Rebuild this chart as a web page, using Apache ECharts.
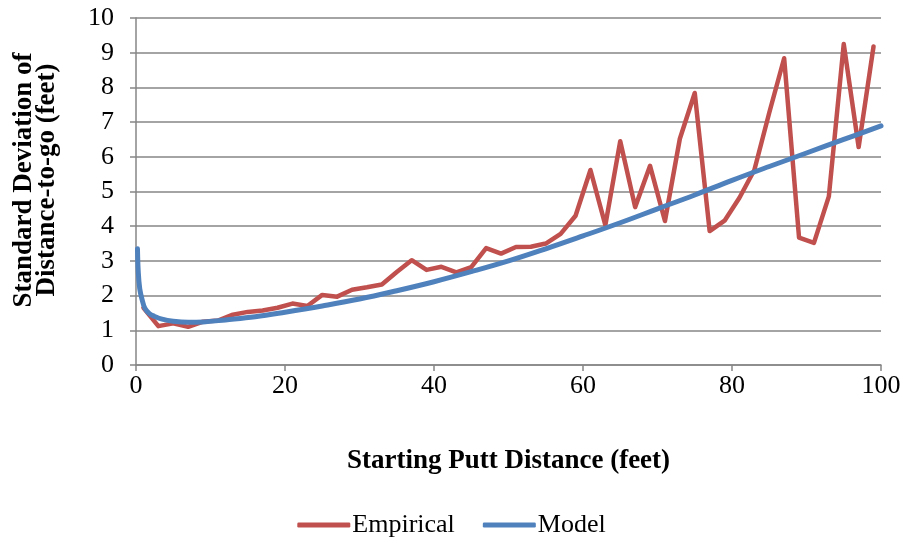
<!DOCTYPE html>
<html>
<head>
<meta charset="utf-8">
<script src="https://cdn.jsdelivr.net/npm/echarts@6/dist/echarts.min.js"></script>
<style>
  html, body { margin: 0; padding: 0; background: #fff; }
  #chart { width: 903px; height: 543px; }
</style>
</head>
<body>
<div id="chart"></div>
<script>
// Starting putt distance (feet) for the empirical measurements
const empiricalX = [1, 3, 5, 7, 9, 11, 13, 15, 17, 19, 21, 23, 25, 27, 29, 31, 33, 35, 37, 39,
  41, 43, 45, 47, 49, 51, 53, 55, 57, 59, 61, 63, 65, 67, 69, 71, 73, 75, 77, 79,
  81, 83, 85, 87, 89, 91, 93, 95, 97, 99];
// Standard deviation of distance-to-go (feet), empirical
const empiricalY = [1.65, 1.12, 1.2, 1.1, 1.25, 1.28, 1.45, 1.53, 1.57, 1.65, 1.77, 1.7, 2.02, 1.97, 2.17, 2.24, 2.32, 2.68, 3.02, 2.74,
  2.83, 2.67, 2.82, 3.37, 3.21, 3.4, 3.41, 3.5, 3.78, 4.3, 5.62, 4.03, 6.45, 4.55, 5.74, 4.15, 6.52, 7.84, 3.86, 4.16,
  4.82, 5.62, 7.27, 8.84, 3.67, 3.52, 4.86, 9.25, 6.28, 9.18];

// Model curve sample points
const modelX = [0.2, 0.3, 0.5, 0.8, 1.2, 1.8, 2.5, 3.5, 5, 7, 9, 12, 16, 20, 25, 30, 35, 40, 45, 50,
  55, 60, 65, 70, 75, 80, 85, 90, 95, 100];
const modelY = [3.35, 2.7, 2.2, 1.9, 1.63, 1.48, 1.4, 1.32, 1.26, 1.23, 1.24, 1.3, 1.39, 1.52, 1.7, 1.9, 2.14, 2.4, 2.69, 3.0,
  3.35, 3.72, 4.1, 4.5, 4.9, 5.32, 5.72, 6.11, 6.5, 6.89];

const xTicks = { min: 0, max: 100, step: 20 };
const yTicks = { min: 0, max: 10, step: 1 };

const xTitle = 'Starting Putt Distance (feet)';
const yTitle = 'Standard Deviation of\nDistance-to-go (feet)';

const pair = (xs, ys) => xs.map((x, i) => [x, ys[i]]);

const serif = '"Liberation Serif", "Times New Roman", serif';
const gridGray = '#868686';
const fs = 26;
const titleFs = 27;

const chart = echarts.init(document.getElementById('chart'), null, { renderer: 'canvas' });
chart.setOption({
  animation: false,
  backgroundColor: '#ffffff',
  textStyle: { fontFamily: serif, color: '#000' },
  grid: { left: 136, right: 22, top: 18, bottom: 178, containLabel: false, outerBoundsMode: 'none' },
  graphic: [
    {
      // vertical y-axis title, two lines
      type: 'text',
      rotation: Math.PI / 2,
      x: 36,
      y: 180,
      style: {
        text: yTitle,
        fontFamily: serif,
        fontWeight: 'bold',
        fontSize: titleFs,
        lineHeight: 23,
        fill: '#000',
        align: 'center',
        verticalAlign: 'middle'
      }
    }
  ],
  xAxis: {
    type: 'value',
    min: xTicks.min, max: xTicks.max, interval: xTicks.step,
    name: xTitle,
    nameLocation: 'middle',
    nameGap: 83,
    nameTextStyle: { fontFamily: serif, fontWeight: 'bold', fontSize: titleFs, color: '#000' },
    axisLine: { show: true, onZero: false, lineStyle: { color: gridGray, width: 1.5 } },
    axisTick: { show: true, inside: false, length: 6, lineStyle: { color: gridGray, width: 1.5 } },
    axisLabel: { fontFamily: serif, fontSize: fs, color: '#000', margin: 8 },
    splitLine: { show: false }
  },
  yAxis: {
    type: 'value',
    min: yTicks.min, max: yTicks.max, interval: yTicks.step,
    axisLine: { show: true, lineStyle: { color: gridGray, width: 1.5 } },
    axisTick: { show: true, inside: false, length: 6, lineStyle: { color: gridGray, width: 1.5 } },
    axisLabel: { fontFamily: serif, fontSize: fs, color: '#000', margin: 22 },
    splitLine: { show: true, lineStyle: { color: gridGray, width: 1.5 } }
  },
  legend: {
    bottom: 0,
    left: 'center',
    itemWidth: 53,
    itemHeight: 5,
    itemGap: 28,
    icon: 'roundRect',
    textStyle: { fontFamily: serif, fontSize: fs, color: '#000', padding: [0, 0, 0, -3] },
    data: ['Empirical', 'Model']
  },
  series: [
    {
      name: 'Empirical',
      type: 'line',
      data: pair(empiricalX, empiricalY),
      showSymbol: false,
      symbol: 'none',
      lineStyle: { color: '#C0504D', width: 4.5, cap: 'round', join: 'round' },
      itemStyle: { color: '#C0504D' },
      z: 2
    },
    {
      name: 'Model',
      type: 'line',
      data: pair(modelX, modelY),
      smooth: 0.4,
      showSymbol: false,
      symbol: 'none',
      lineStyle: { color: '#4F81BD', width: 5, cap: 'round', join: 'round' },
      itemStyle: { color: '#4F81BD' },
      z: 3
    }
  ]
});
</script>
</body>
</html>
